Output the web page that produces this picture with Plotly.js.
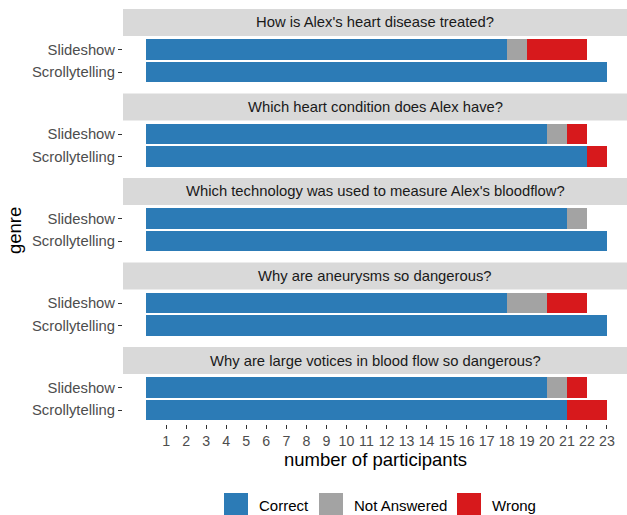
<!DOCTYPE html>
<html>
<head>
<meta charset="utf-8">
<script src="https://cdn.plot.ly/plotly-3.0.1.min.js"></script>
<style>html,body{margin:0;padding:0;background:#fff;}#chart{width:627px;height:515px;}</style>
</head>
<body>
<div id="chart"></div>
<script>
// ---- data ----
const questions = [
  "How is Alex's heart disease treated?",
  "Which heart condition does Alex have?",
  "Which technology was used to measure Alex's bloodflow?",
  "Why are aneurysms so dangerous?",
  "Why are large votices in blood flow so dangerous?"
];
const genres = ["Slideshow", "Scrollytelling"];
const answerTypes = ["Correct", "Not Answered", "Wrong"];
const correctSlideshow = [18, 20, 21, 18, 20];
const correctScrolly   = [23, 22, 23, 23, 21];
const notAnsweredSlideshow = [1, 1, 1, 2, 1];
const notAnsweredScrolly   = [0, 0, 0, 0, 0];
const wrongSlideshow = [3, 1, 0, 2, 1];
const wrongScrolly   = [0, 1, 0, 0, 2];
const xTicks = [1,2,3,4,5,6,7,8,9,10,11,12,13,14,15,16,17,18,19,20,21,22,23];

// ---- styling ----
const colors = {"Correct": "#2C7BB6", "Not Answered": "#A3A3A3", "Wrong": "#D7191C"};
const W = 627, H = 515;
const FONT = "Liberation Sans, Arial, sans-serif";
const TXT = 14.8;
const panelLeft = 123, panelRight = 627;
const period = 84.5, stripTop0 = 9, stripH = 27, panelH = 49.5;
const px = v => v / W;
const py = v => 1 - v / H;

const series = {
  "Correct": [correctSlideshow, correctScrolly],
  "Not Answered": [notAnsweredSlideshow, notAnsweredScrolly],
  "Wrong": [wrongSlideshow, wrongScrolly]
};

const traces = [];
const layout = {
  width: W, height: H,
  margin: {l: 0, r: 0, t: 0, b: 0},
  paper_bgcolor: "#ffffff",
  plot_bgcolor: "#ffffff",
  barmode: "stack",
  showlegend: false,
  font: {family: FONT, color: "#4D4D4D", size: TXT},
  shapes: [],
  annotations: [],
  xaxis: {
    domain: [px(panelLeft), px(panelRight)],
    range: [-1.15, 24.0],
    anchor: "y5",
    tickmode: "array",
    tickvals: xTicks,
    ticktext: xTicks.map(String),
    ticks: "outside", ticklen: 4, tickwidth: 1, tickcolor: "#333333",
    tickfont: {family: FONT, size: 14.2, color: "#4D4D4D"},
    showgrid: false, zeroline: false, showline: false,
    fixedrange: true
  }
};

questions.forEach((q, k) => {
  const yName = k === 0 ? "y" : "y" + (k + 1);
  const layoutKey = k === 0 ? "yaxis" : "yaxis" + (k + 1);
  const stripTop = stripTop0 + period * k;
  const panelTop = stripTop + stripH;
  const panelBottom = panelTop + panelH;

  answerTypes.forEach(a => {
    traces.push({
      type: "bar",
      orientation: "h",
      name: a,
      y: genres,
      x: [series[a][0][k], series[a][1][k]],
      xaxis: "x",
      yaxis: yName,
      width: 0.9,
      marker: {color: colors[a], line: {width: 0}},
      hoverinfo: "x+y+name"
    });
  });

  layout[layoutKey] = {
    domain: [py(panelBottom), py(panelTop)],
    type: "category",
    categoryorder: "array",
    categoryarray: ["Scrollytelling", "Slideshow"],
    range: [-0.6, 1.6],
    anchor: "x",
    ticks: "outside", ticklen: 4, tickwidth: 1, tickcolor: "#333333",
    tickfont: {family: FONT, size: TXT, color: "#4D4D4D"},
    showgrid: false, zeroline: false, showline: false,
    fixedrange: true
  };

  layout.shapes.push({
    type: "rect", xref: "paper", yref: "paper",
    x0: px(panelLeft), x1: px(panelRight),
    y0: py(stripTop + stripH), y1: py(stripTop),
    fillcolor: "#D9D9D9", line: {width: 0}, layer: "below"
  });
  layout.annotations.push({
    xref: "paper", yref: "paper",
    x: px((panelLeft + panelRight) / 2), y: py(stripTop + stripH / 2),
    xanchor: "center", yanchor: "middle",
    text: q, showarrow: false,
    font: {family: FONT, size: TXT, color: "#1A1A1A"}
  });
});

// axis titles
layout.annotations.push({
  xref: "paper", yref: "paper",
  x: px((panelLeft + panelRight) / 2), y: py(459),
  xanchor: "center", yanchor: "middle",
  text: "number of participants", showarrow: false,
  font: {family: FONT, size: 18.5, color: "#000000"}
});
layout.annotations.push({
  xref: "paper", yref: "paper",
  x: px(14), y: py(231),
  xanchor: "center", yanchor: "middle",
  text: "genre", showarrow: false, textangle: -90,
  font: {family: FONT, size: 18.5, color: "#000000"}
});

// legend (drawn as keys + labels)
const legendKeys = [
  {name: "Correct", x0: 224},
  {name: "Not Answered", x0: 319},
  {name: "Wrong", x0: 457}
];
legendKeys.forEach(item => {
  layout.shapes.push({
    type: "rect", xref: "paper", yref: "paper",
    x0: px(item.x0), x1: px(item.x0 + 24),
    y0: py(516), y1: py(493),
    fillcolor: colors[item.name], line: {width: 0}
  });
  layout.annotations.push({
    xref: "paper", yref: "paper",
    x: px(item.x0 + 33), y: py(505),
    xanchor: "left", yanchor: "middle",
    text: item.name, showarrow: false,
    font: {family: FONT, size: 15, color: "#000000"}
  });
});

Plotly.newPlot("chart", traces, layout, {displayModeBar: false, staticPlot: true});
</script>
</body>
</html>
